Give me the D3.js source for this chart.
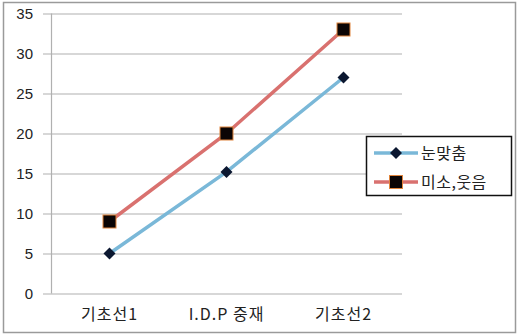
<!DOCTYPE html>
<html>
<head>
<meta charset="utf-8">
<script src="https://cdn.jsdelivr.net/npm/d3@7/dist/d3.min.js"></script>
<style>
  html, body { margin: 0; padding: 0; background: #fff; }
  svg { display: block; }
</style>
</head>
<body>
<svg id="chart" width="517" height="335"></svg>
<script>
// Session phases on the x axis
const categories = ["기초선1", "I.D.P 중재", "기초선2"];
// Behaviour counts per phase
const eyeContact = [5, 15.2, 27];     // 눈맞춤
const smileLaugh = [9, 20, 33];       // 미소,웃음
const yTicks = [0, 5, 10, 15, 20, 25, 30, 35];
const seriesNames = ["눈맞춤", "미소,웃음"];

const series = [
  { name: seriesNames[0], values: eyeContact, color: "#7ab8d8", marker: "diamond" },
  { name: seriesNames[1], values: smileLaugh, color: "#d9716f", marker: "square" }
];

const KR = "'Noto Sans CJK KR', 'Noto Sans', sans-serif";
const LAT = "'Liberation Sans', Arial, sans-serif";

const svg = d3.select("#chart");

// Outer chart frame
svg.append("rect")
  .attr("x", 3.5).attr("y", 2.5)
  .attr("width", 512).attr("height", 330)
  .attr("fill", "#fff").attr("stroke", "#9a9a9a").attr("stroke-width", 1.5);

const plot = { left: 51, right: 402, top: 13.5, bottom: 293.5 };

const x = d3.scaleBand().domain(categories).range([plot.left, plot.right]);
const y = d3.scaleLinear().domain([0, 35]).range([plot.bottom, plot.top]);

// Horizontal gridlines with y-axis labels
const yAxis = d3.axisLeft(y).tickValues(yTicks).tickSize(-(plot.right - plot.left)).tickPadding(18);
const gy = svg.append("g").attr("transform", `translate(${plot.left},0)`).call(yAxis);
gy.select(".domain").remove();
gy.selectAll(".tick line").attr("stroke", "#b0b0b0").attr("stroke-width", 1.2).attr("x1", -8);
gy.selectAll(".tick text")
  .attr("font-size", 15).attr("fill", "#222").attr("font-family", LAT);

// Vertical axis line
svg.append("line")
  .attr("x1", plot.left + 0.5).attr("x2", plot.left + 0.5)
  .attr("y1", plot.top).attr("y2", plot.bottom)
  .attr("stroke", "#b0b0b0").attr("stroke-width", 1.2);

// Category labels
const xAxis = d3.axisBottom(x).tickSize(0).tickPadding(15);
const gx = svg.append("g").attr("transform", `translate(0,${plot.bottom})`).call(xAxis);
gx.select(".domain").remove();
gx.selectAll(".tick text")
  .attr("font-size", 16).attr("fill", "#222").attr("font-family", KR)
  .attr("letter-spacing", 1);

const cx = d => x(d) + x.bandwidth() / 2;

const line = d3.line().x((d, i) => cx(categories[i])).y(d => y(d));

function drawMarker(g, type, px, py) {
  if (type === "diamond") {
    g.append("path")
      .attr("d", `M${px},${py - 6}L${px + 6},${py}L${px},${py + 6}L${px - 6},${py}Z`)
      .attr("fill", "#0b1730");
  } else {
    g.append("rect")
      .attr("x", px - 6.5).attr("y", py - 6.5).attr("width", 13).attr("height", 13)
      .attr("fill", "#0b0505").attr("stroke", "#e0843c").attr("stroke-width", 1);
  }
}

series.forEach(s => {
  const g = svg.append("g");
  g.append("path")
    .datum(s.values)
    .attr("d", line)
    .attr("fill", "none")
    .attr("stroke", s.color)
    .attr("stroke-width", 3.5);
  s.values.forEach((v, i) => drawMarker(g, s.marker, cx(categories[i]), y(v)));
});

// Legend
const legend = svg.append("g");
legend.append("rect")
  .attr("x", 366.5).attr("y", 136.5).attr("width", 145).attr("height", 59)
  .attr("fill", "#fff").attr("stroke", "#111").attr("stroke-width", 1.5);

series.forEach((s, i) => {
  const ly = 153 + i * 29;
  legend.append("line")
    .attr("x1", 374).attr("x2", 418).attr("y1", ly).attr("y2", ly)
    .attr("stroke", s.color).attr("stroke-width", 3.5);
  drawMarker(legend, s.marker, 396, ly);
  legend.append("text")
    .attr("x", 421).attr("y", ly).attr("dy", "0.36em")
    .attr("font-size", 16).attr("font-family", KR).attr("fill", "#222")
    .attr("letter-spacing", 0.5)
    .text(s.name);
});
</script>
</body>
</html>
